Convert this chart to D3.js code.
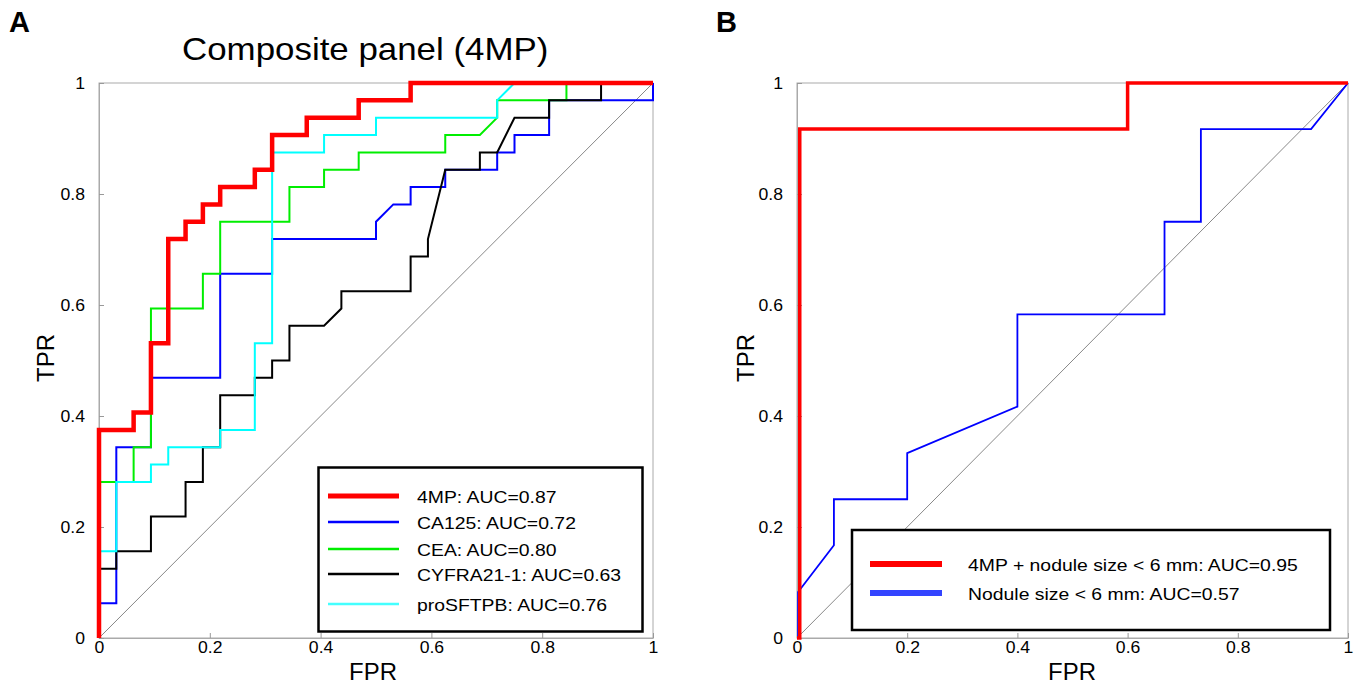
<!DOCTYPE html>
<html><head><meta charset="utf-8">
<script src="https://cdn.jsdelivr.net/npm/d3@7"></script>
<style>body{margin:0;background:#fff}text{font-family:"Liberation Sans",Arial,sans-serif}</style>
</head><body><svg id="c" width="1362" height="688"></svg>
<script>
// ---- Data ----
const ticks = [0, 0.2, 0.4, 0.6, 0.8, 1];
const tickLabels = ["0", "0.2", "0.4", "0.6", "0.8", "1"];

// Panel A
const fpr4MP = [0,0,0.0625,0.0625,0.09375,0.09375,0.125,0.125,0.15625,0.15625,0.1875,0.1875,0.21875,0.21875,0.28125,0.28125,0.3125,0.3125,0.375,0.375,0.46875,0.46875,0.5625,0.5625,1];
const tpr4MP = [0,0.375,0.375,0.40625,0.40625,0.53125,0.53125,0.71875,0.71875,0.75,0.75,0.78125,0.78125,0.8125,0.8125,0.84375,0.84375,0.90625,0.90625,0.9375,0.9375,0.96875,0.96875,1,1];

const fprCA125 = [0,0,0.03125,0.03125,0.09375,0.09375,0.21875,0.21875,0.3125,0.3125,0.5,0.5,0.53125,0.5625,0.5625,0.625,0.625,0.71875,0.71875,0.75,0.75,0.8125,0.8125,1,1];
const tprCA125 = [0,0.0625,0.0625,0.34375,0.34375,0.46875,0.46875,0.65625,0.65625,0.71875,0.71875,0.75,0.78125,0.78125,0.8125,0.8125,0.84375,0.84375,0.875,0.875,0.90625,0.90625,0.96875,0.96875,1];

const fprCEA = [0,0,0.0625,0.0625,0.09375,0.09375,0.1875,0.1875,0.21875,0.21875,0.34375,0.34375,0.40625,0.40625,0.46875,0.46875,0.625,0.625,0.6875,0.71875,0.71875,0.84375,0.84375,1];
const tprCEA = [0,0.28125,0.28125,0.34375,0.34375,0.59375,0.59375,0.65625,0.65625,0.75,0.75,0.8125,0.8125,0.84375,0.84375,0.875,0.875,0.90625,0.90625,0.9375,0.96875,0.96875,1,1];

const fprCYFRA = [0,0,0.03125,0.03125,0.09375,0.09375,0.15625,0.15625,0.1875,0.1875,0.21875,0.21875,0.28125,0.28125,0.3125,0.3125,0.34375,0.34375,0.40625,0.4375,0.4375,0.5625,0.5625,0.59375,0.59375,0.625,0.6875,0.6875,0.71875,0.75,0.8125,0.8125,0.90625,0.90625,1];
const tprCYFRA = [0,0.125,0.125,0.15625,0.15625,0.21875,0.21875,0.28125,0.28125,0.34375,0.34375,0.4375,0.4375,0.46875,0.46875,0.5,0.5,0.5625,0.5625,0.59375,0.625,0.625,0.6875,0.6875,0.71875,0.84375,0.84375,0.875,0.875,0.9375,0.9375,0.96875,0.96875,1,1];

const fprSFTPB = [0,0,0.03125,0.03125,0.09375,0.09375,0.125,0.125,0.21875,0.21875,0.28125,0.28125,0.3125,0.3125,0.40625,0.40625,0.5,0.5,0.71875,0.71875,0.75,1];
const tprSFTPB = [0,0.15625,0.15625,0.28125,0.28125,0.3125,0.3125,0.34375,0.34375,0.375,0.375,0.53125,0.53125,0.875,0.875,0.90625,0.90625,0.9375,0.9375,0.96875,1,1];

// Panel B
const fprCombo = [0,0.005,0.005,0.6,0.6,1];
const tprCombo = [0,0,0.917,0.917,1,1];
const fprNodule = [0.002,0.002,0.067,0.067,0.2,0.2,0.4,0.4,0.667,0.667,0.733,0.733,0.933,1];
const tprNodule = [0,0.083,0.167,0.25,0.25,0.333,0.417,0.583,0.583,0.75,0.75,0.917,0.917,1];

const legendA = ["4MP: AUC=0.87","CA125: AUC=0.72","CEA: AUC=0.80","CYFRA21-1: AUC=0.63","proSFTPB: AUC=0.76"];
const legendB = ["4MP + nodule size < 6 mm: AUC=0.95","Nodule size < 6 mm: AUC=0.57"];

// ---- Drawing ----
const svg = d3.select("#c");
const F = '"Liberation Sans",Arial,sans-serif';

// widen glyphs horizontally (reference text is slightly stretched)
function stretch(sel, k) {
  sel.each(function(){
    const L = this.getComputedTextLength();
    d3.select(this).attr("textLength", L*k).attr("lengthAdjust","spacingAndGlyphs");
  });
  return sel;
}

function panel(x0, x1, yTop, yBot) {
  const x = d3.scaleLinear().domain([0,1]).range([x0,x1]);
  const y = d3.scaleLinear().domain([0,1]).range([yBot,yTop]);
  const g = svg.append("g");
  g.append("rect").attr("x",x0).attr("y",yTop).attr("width",x1-x0).attr("height",yBot-yTop)
    .attr("fill","none").attr("stroke","#aaa").attr("stroke-width",1);
  const ax = d3.axisBottom(x).tickValues(ticks).tickFormat((d,i)=>tickLabels[i]).tickSizeInner(-5).tickSizeOuter(0).tickPadding(5);
  const ay = d3.axisLeft(y).tickValues(ticks).tickFormat((d,i)=>tickLabels[i]).tickSizeInner(-5).tickSizeOuter(0).tickPadding(14);
  const gx = g.append("g").attr("transform",`translate(0,${yBot})`).call(ax);
  const gy = g.append("g").attr("transform",`translate(${x0},0)`).call(ay);
  [gx,gy].forEach(a=>{
    a.select(".domain").attr("stroke","#aaa");
    a.selectAll(".tick line").attr("stroke","#999");
    a.selectAll("text").attr("font-family",F).attr("font-size",16).attr("fill","#000");
  });
  gx.selectAll("text").attr("y",15).attr("dy",0);
  stretch(gx.selectAll("text"),1.1);
  stretch(gy.selectAll("text"),1.1);
  g.append("line").attr("x1",x(0)).attr("y1",y(0)).attr("x2",x(1)).attr("y2",y(1))
    .attr("stroke","#888").attr("stroke-width",1);
  return {x,y,g};
}

function curve(p, fx, fy, color, w) {
  const pts = fx.map((v,i)=>[v,fy[i]]);
  const line = d3.line().x(d=>p.x(d[0])).y(d=>p.y(d[1]));
  p.g.append("path").attr("d",line(pts)).attr("fill","none").attr("stroke",color)
    .attr("stroke-width",w).attr("stroke-linejoin","miter");
}

// Panel A
const A = panel(99, 653, 83, 638);
curve(A, fprCA125, tprCA125, "#0000ff", 2);
curve(A, fprCEA, tprCEA, "#00ee00", 2);
curve(A, fprCYFRA, tprCYFRA, "#000000", 2);
curve(A, fprSFTPB, tprSFTPB, "#00ffff", 2);
curve(A, fpr4MP, tpr4MP, "#ff0000", 4.5);

// Panel B
const B = panel(797, 1348, 83, 638);
curve(B, fprNodule, tprNodule, "#0000ff", 1.8);
curve(B, fprCombo, tprCombo, "#ff0000", 3.5);

// Legend A
const legA = svg.append("g");
legA.append("rect").attr("x",318.5).attr("y",467.5).attr("width",324).attr("height",164)
  .attr("fill","#fff").attr("stroke","#000").attr("stroke-width",2.5);
const colA = ["#ff0000","#0000ff","#00ee00","#000000","#44ffff"];
const wA = [5,2.5,2.5,2.5,2.5];
const rowA = [496,522,549,574,604];
legendA.forEach((t,i)=>{
  legA.append("line").attr("x1",328).attr("x2",399).attr("y1",rowA[i]).attr("y2",rowA[i])
    .attr("stroke",colA[i]).attr("stroke-width",wA[i]);
  stretch(legA.append("text").attr("x",417).attr("y",rowA[i]+6.5).attr("font-size",17).attr("font-family",F).text(t),1.14);
});

// Legend B
const legB = svg.append("g");
legB.append("rect").attr("x",852).attr("y",530).attr("width",478).attr("height",100)
  .attr("fill","#fff").attr("stroke","#000").attr("stroke-width",2.5);
const colB = ["#ff0000","#3344ff"];
const rowB = [564,593];
legendB.forEach((t,i)=>{
  legB.append("line").attr("x1",870).attr("x2",942).attr("y1",rowB[i]).attr("y2",rowB[i])
    .attr("stroke",colB[i]).attr("stroke-width",6);
  stretch(legB.append("text").attr("x",968).attr("y",rowB[i]+6.5).attr("font-size",17).attr("font-family",F).text(t),1.14);
});

// Titles and labels
stretch(svg.append("text").attr("x",182).attr("y",60).attr("font-size",32).text("Composite panel (4MP)"),1.09);
svg.append("text").attr("x",9).attr("y",32).attr("font-size",29).attr("font-weight","bold").text("A");
svg.append("text").attr("x",716).attr("y",32).attr("font-size",29).attr("font-weight","bold").text("B");
stretch(svg.append("text").attr("x",373).attr("y",680).attr("text-anchor","middle").attr("font-size",23).text("FPR"),1.04);
stretch(svg.append("text").attr("x",1072).attr("y",680).attr("text-anchor","middle").attr("font-size",23).text("FPR"),1.04);
stretch(svg.append("text").attr("transform","translate(54,358) rotate(-90)").attr("text-anchor","middle").attr("font-size",23).text("TPR"),1.04);
stretch(svg.append("text").attr("transform","translate(754,358) rotate(-90)").attr("text-anchor","middle").attr("font-size",23).text("TPR"),1.04);
</script></body></html>
